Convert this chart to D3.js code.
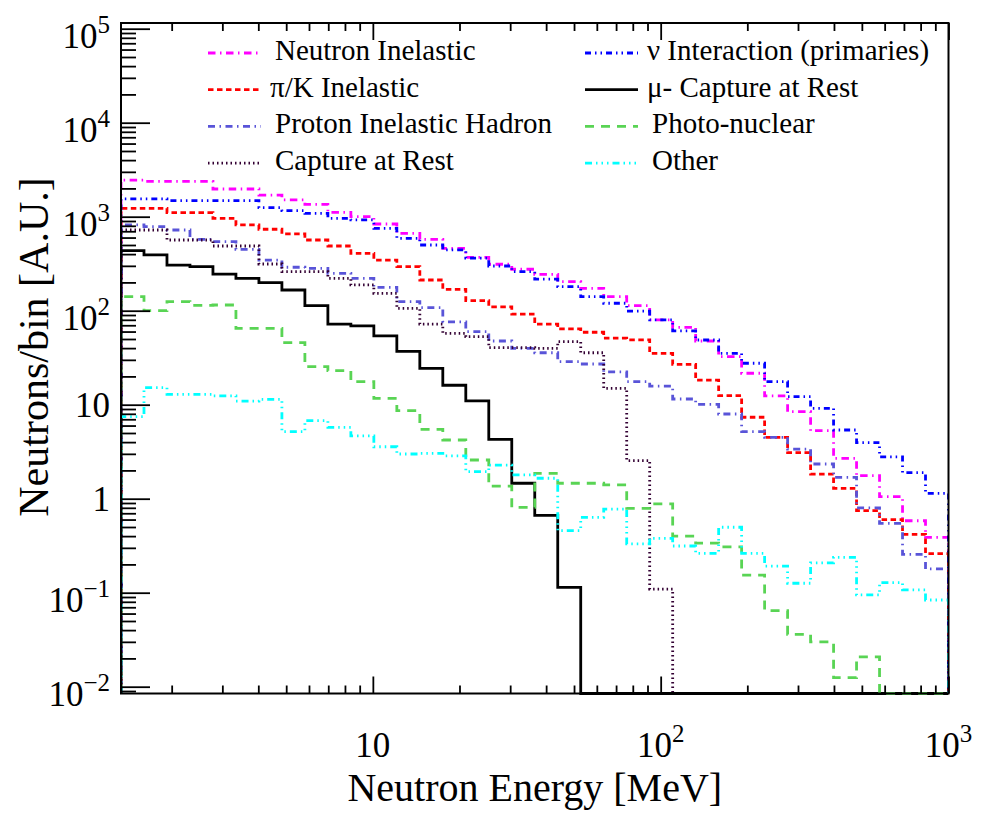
<!DOCTYPE html>
<html>
<head>
<meta charset="utf-8">
<script src="https://cdn.jsdelivr.net/npm/d3@7"></script>
<style>
  body { margin: 0; background: #fff; }
  text { font-family: "Liberation Serif", "Times New Roman", serif; fill: #000; }
</style>
</head>
<body>
<figure id="hist" style="margin:0"></figure>
<script>
// 36 log-spaced energy bins, 10^0.125 .. 10^3 MeV
const nBins = 36;
const logMin = 0.125;
const logMax = 3;

// neutrons per bin for each production process
const neutronInelastic = [2450, 2370, 2370, 2370, 1970, 1970, 1700, 1510, 1355, 1114, 1000, 836,
  666, 575, 461, 370, 312, 276, 244, 204, 173, 141, 113, 80,
  66.6, 47.6, 32.4, 21.6, 12.4, 8.43, 5.29, 2.69, 1.76, 1.05, 0.583, 0.388];
const piKInelastic = [1228, 1228, 1104, 1104, 962, 817, 735, 655, 565, 488, 408, 346,
  294, 212, 169, 128, 110, 92, 72, 64, 59, 51, 49, 35.2,
  26.9, 18.3, 12.5, 7.35, 4.5, 3.09, 1.83, 1.29, 0.745, 0.6, 0.418, 0.26];
const protonInelastic = [817, 783, 722, 575, 542, 450, 346, 290, 282, 250, 221, 177,
  125, 108, 76, 60, 47.6, 39.8, 35.7, 28.7, 27.1, 22.4, 17.6, 15.8,
  11.5, 10.1, 7.96, 5.16, 4.5, 3.36, 2.34, 1.69, 0.8, 0.547, 0.256, 0.179];
const captureAtRest = [722, 722, 565, 565, 488, 488, 314, 260, 260, 221, 188, 153,
  106, 72, 57.5, 52.9, 40.4, 40.4, 39.8, 46.8, 35.7, 14.9, 2.54, 0.109,
  0, 0, 0, 0, 0, 0, 0, 0, 0, 0, 0, 0];
const nuInteraction = [1550, 1550, 1480, 1480, 1480, 1480, 1247, 1159, 1087, 962, 923, 753,
  589, 500, 443, 363, 299, 260, 217, 180, 141, 120, 99, 80,
  61, 48.8, 35.2, 27.6, 17.6, 12.2, 9.16, 5.38, 3.94, 2.78, 1.89, 1.14];
const muCapture = [435, 392, 306, 294, 245, 221, 199, 166, 113, 72, 69, 54,
  37, 24.4, 16.1, 11.0, 4.28, 1.46, 0.665, 0.114, 0, 0, 0, 0,
  0, 0, 0, 0, 0, 0, 0, 0, 0, 0, 0, 0];
const photoNuclear = [141, 100, 125, 114, 115, 65, 65, 45.7, 25.4, 23, 17.6, 11.7,
  8.63, 5.47, 4.21, 2.58, 1.36, 0.81, 1.86, 1.46, 1.46, 1.4, 0.79, 0.88,
  0.4, 0.336, 0.308, 0.154, 0.0644, 0.036, 0.03, 0.0125, 0.0208, 0, 0, 0];
const other = [7.45, 15.2, 12.9, 12.9, 12.4, 10.9, 11.4, 5.16, 6.76, 5.75, 4.65, 3.57,
  2.99, 3.04, 2.85, 1.94, 2.28, 1.79, 1.65, 0.457, 0.634, 0.776, 0.33, 0.379,
  0.314, 0.262, 0.497, 0.262, 0.192, 0.126, 0.208, 0.238, 0.0946, 0.128, 0.107, 0.0836];

const seriesLabels = ['Neutron Inelastic', 'π/K Inelastic', 'Proton Inelastic Hadron', 'Capture at Rest',
  'ν Interaction (primaries)', 'μ- Capture at Rest', 'Photo-nuclear', 'Other'];
const yTickPowers = [-2, -1, 0, 1, 2, 3, 4, 5];
const xTickPowers = [1, 2, 3];
const xTitle = 'Neutron Energy [MeV]';
const yTitle = 'Neutrons/bin [A.U.]';

const width = 993;
const height = 823;
const frame = { left: 121, right: 948.5, top: 23, bottom: 693.5 };

const svg = d3.select('figure#hist')
  .append('svg')
  .attr('width', width)
  .attr('height', height);

const x = d3.scaleLog()
  .domain([Math.pow(10, logMin), Math.pow(10, logMax)])
  .range([frame.left, frame.right]);

const y = d3.scaleLog()
  .domain([0.01, 1e5])
  .range([686.7, 28.7]);

const edges = d3.range(nBins + 1).map(i => Math.pow(10, logMin + i * (logMax - logMin) / nBins));

// line styles roughly like ROOT's 1..8
const styles = [
  { data: neutronInelastic, color: '#ff00ff', dash: '7.5 4.5 1.5 4.5' },
  { data: piKInelastic, color: '#ff0000', dash: '5.5 3.5' },
  { data: protonInelastic, color: '#5954d8', dash: '7 4.5 1.5 4.5' },
  { data: captureAtRest, color: '#330033', dash: '1.5 3' },
  { data: nuInteraction, color: '#0000ff', dash: '6 4 1.5 4 1.5 4' },
  { data: muCapture, color: '#000000', dash: null },
  { data: photoNuclear, color: '#59d454', dash: '9 7' },
  { data: other, color: '#00ffff', dash: '7 4 1.5 4 1.5 4 1.5 4' }
];

// a little room below the frame so empty bins sit on the bottom edge
svg.append('clipPath')
  .attr('id', 'frameClip')
  .append('rect')
  .attr('x', frame.left)
  .attr('y', frame.top)
  .attr('width', frame.right - frame.left)
  .attr('height', frame.bottom - frame.top + 1.5);

const line = d3.line()
  .x(d => x(d[0]))
  .y(d => d[1] > 0 ? y(d[1]) : frame.bottom)
  .curve(d3.curveStepAfter);

function histPoints(vals) {
  const pts = [[edges[0], 0]];
  vals.forEach((v, i) => pts.push([edges[i], v]));
  pts.push([edges[nBins], vals[nBins - 1]]);
  pts.push([edges[nBins], 0]);
  return pts;
}

svg.append('g')
  .attr('clip-path', 'url(#frameClip)')
  .selectAll('path')
  .data(styles)
  .enter()
  .append('path')
  .attr('d', d => line(histPoints(d.data)))
  .attr('fill', 'none')
  .attr('stroke', d => d.color)
  .attr('stroke-width', 2.8)
  .attr('stroke-dasharray', d => d.dash);

// ticks
const yMajor = yTickPowers.map(p => Math.pow(10, p));
const yMinor = [];
for (let p = -3; p <= 5; p++) {
  for (let m = 2; m <= 9; m++) {
    const v = m * Math.pow(10, p);
    if (y(v) >= frame.top && y(v) <= frame.bottom) yMinor.push(v);
  }
}
const xMajor = xTickPowers.map(p => Math.pow(10, p));
const xMinor = [];
for (let p = 0; p <= 2; p++) {
  for (let m = 2; m <= 9; m++) {
    const v = m * Math.pow(10, p);
    if (x(v) >= frame.left) xMinor.push(v);
  }
}

function drawAxis(axis, transform) {
  const g = svg.append('g')
    .attr('transform', transform)
    .call(axis);
  g.select('.domain').remove();
  g.selectAll('line').attr('stroke', '#000').attr('stroke-width', 1.8);
}

drawAxis(d3.axisLeft(y).tickValues(yMajor).tickSize(-29).tickFormat(''), `translate(${frame.left},0)`);
drawAxis(d3.axisLeft(y).tickValues(yMinor).tickSize(-15).tickFormat(''), `translate(${frame.left},0)`);
drawAxis(d3.axisBottom(x).tickValues(xMajor).tickSize(-17).tickFormat(''), `translate(0,${frame.bottom})`);
drawAxis(d3.axisBottom(x).tickValues(xMinor).tickSize(-8).tickFormat(''), `translate(0,${frame.bottom})`);
drawAxis(d3.axisTop(x).tickValues(xMajor).tickSize(-17).tickFormat(''), `translate(0,${frame.top})`);
drawAxis(d3.axisTop(x).tickValues(xMinor).tickSize(-8).tickFormat(''), `translate(0,${frame.top})`);

// frame
svg.append('rect')
  .attr('x', frame.left)
  .attr('y', frame.top)
  .attr('width', frame.right - frame.left)
  .attr('height', frame.bottom - frame.top)
  .attr('fill', 'none')
  .attr('stroke', '#000')
  .attr('stroke-width', 2);

// tick labels
function powerLabel(sel, p) {
  if (p === 0) { sel.text('1'); return; }
  if (p === 1) { sel.text('10'); return; }
  sel.append('tspan').text('10');
  sel.append('tspan')
    .attr('dy', -15)
    .attr('font-size', 25)
    .text(p < 0 ? '\u2212' + (-p) : String(p));
}

yTickPowers.forEach(p => {
  const t = svg.append('text')
    .attr('x', 110)
    .attr('y', y(Math.pow(10, p)) + (p === 0 || p === 1 ? 12.5 : 19))
    .attr('text-anchor', 'end')
    .attr('font-size', 35);
  powerLabel(t, p);
});

xTickPowers.forEach(p => {
  const t = svg.append('text')
    .attr('x', x(Math.pow(10, p)))
    .attr('y', 757)
    .attr('text-anchor', 'middle')
    .attr('font-size', 35);
  powerLabel(t, p);
});

// axis titles
svg.append('text')
  .attr('x', (frame.left + frame.right) / 2)
  .attr('y', 801)
  .attr('text-anchor', 'middle')
  .attr('font-size', 40)
  .text(xTitle);

svg.append('text')
  .attr('transform', 'translate(48,347) rotate(-90)')
  .attr('text-anchor', 'middle')
  .attr('font-size', 42)
  .text(yTitle);

// legend, two columns of four
const legend = svg.append('g');
styles.forEach((s, i) => {
  const col = Math.floor(i / 4);
  const row = i % 4;
  const lx = col === 0 ? 208 : 585;
  const ly = 53 + row * 36.7;
  legend.append('line')
    .attr('x1', lx)
    .attr('x2', lx + 53)
    .attr('y1', ly)
    .attr('y2', ly)
    .attr('stroke', s.color)
    .attr('stroke-width', 2.8)
    .attr('stroke-dasharray', s.dash);
  const greek = /^[πνμ]/.test(seriesLabels[i]);
  legend.append('text')
    .attr('x', lx + 67 - (greek ? 5 : 0))
    .attr('y', ly + 7)
    .attr('font-size', 29)
    .text(seriesLabels[i]);
});
</script>
</body>
</html>
